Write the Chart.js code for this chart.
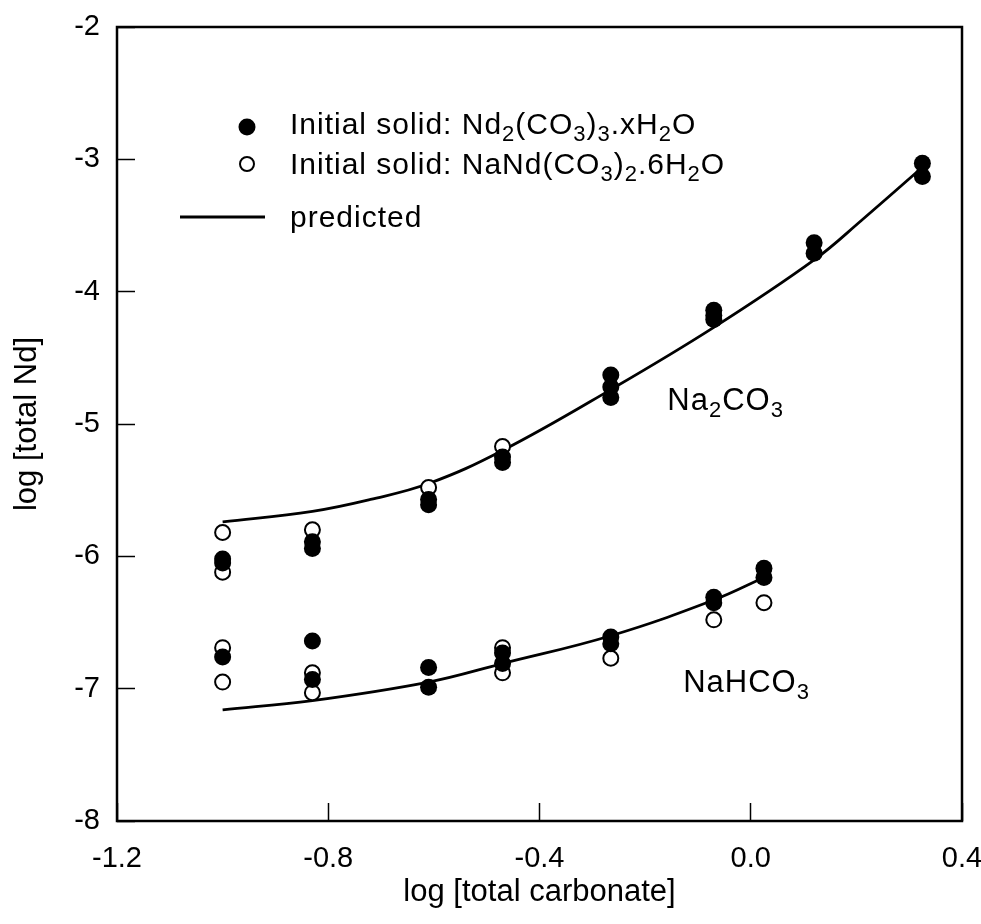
<!DOCTYPE html>
<html>
<head>
<meta charset="utf-8">
<script src="https://cdn.jsdelivr.net/npm/chart.js@4.4.1/dist/chart.umd.min.js"></script>
<style>
  html, body { margin: 0; padding: 0; background: #fff; }
  #wrap { width: 981px; height: 924px; }
</style>
</head>
<body>
<div id="wrap"><canvas id="ndChart" width="981" height="924"></canvas></div>
<script>
// axis ticks
var xTicks = [-1.2, -0.8, -0.4, 0.0, 0.4];
var xTickLabels = ['-1.2', '-0.8', '-0.4', '0.0', '0.4'];
var yTicks = [-2, -3, -4, -5, -6, -7, -8];
var yTickLabels = ['-2', '-3', '-4', '-5', '-6', '-7', '-8'];

// Na2CO3 runs, initial solid Nd2(CO3)3.xH2O (filled)
var na2co3FilledX = [-1.0, -1.0, -0.83, -0.83, -0.61, -0.61, -0.47, -0.47, -0.265, -0.265, -0.265, -0.07, -0.07, -0.07, 0.12, 0.12, 0.325, 0.325];
var na2co3FilledY = [-6.02, -6.05, -5.89, -5.94, -5.57, -5.61, -5.25, -5.29, -4.63, -4.72, -4.80, -4.14, -4.18, -4.21, -3.63, -3.71, -3.03, -3.13];
// Na2CO3 runs, initial solid NaNd(CO3)2.6H2O (open)
var na2co3OpenX = [-1.0, -1.0, -0.83, -0.61, -0.47];
var na2co3OpenY = [-5.82, -6.12, -5.80, -5.48, -5.17];

// NaHCO3 runs
var nahco3FilledX = [-1.0, -0.83, -0.83, -0.61, -0.61, -0.47, -0.47, -0.265, -0.265, -0.07, -0.07, 0.025, 0.025];
var nahco3FilledY = [-6.76, -6.64, -6.93, -6.84, -6.99, -6.73, -6.81, -6.61, -6.66, -6.31, -6.35, -6.09, -6.16];
var nahco3OpenX = [-1.0, -1.0, -0.83, -0.83, -0.47, -0.47, -0.265, -0.07, 0.025];
var nahco3OpenY = [-6.69, -6.95, -6.88, -7.03, -6.69, -6.88, -6.77, -6.48, -6.35];

// predicted curves
var predNa2co3X = [-1.0, -0.83, -0.72, -0.61, -0.47, -0.265, -0.07, 0.12, 0.21, 0.325];
var predNa2co3Y = [-5.74, -5.66, -5.57, -5.45, -5.20, -4.74, -4.27, -3.76, -3.46, -3.06];
var predNahco3X = [-1.0, -0.83, -0.61, -0.47, -0.265, -0.07, 0.025];
var predNahco3Y = [-7.16, -7.09, -6.95, -6.81, -6.60, -6.33, -6.16];

var FONT = "'Liberation Sans', Arial, Helvetica, sans-serif";

function pts(xs, ys) {
  var out = [];
  for (var i = 0; i < xs.length; i++) out.push({x: xs[i], y: ys[i]});
  return out;
}

// text with subscripts: parts are [text, isSub]
function drawRich(ctx, parts, x, y, size) {
  ctx.textBaseline = 'alphabetic';
  ctx.textAlign = 'left';
  ctx.letterSpacing = '1px';
  for (var i = 0; i < parts.length; i++) {
    var sub = parts[i][1];
    ctx.font = (sub ? Math.round(size * 0.72) : size) + 'px ' + FONT;
    ctx.fillText(parts[i][0], x, sub ? y + size * 0.22 : y);
    x += ctx.measureText(parts[i][0]).width;
  }
  ctx.letterSpacing = '0px';
}

var framePlugin = {
  id: 'frame',
  afterDraw: function(chart) {
    var a = chart.chartArea, c = chart.ctx;
    c.save();
    c.strokeStyle = '#000';
    c.lineWidth = 2.5;
    c.strokeRect(a.left, a.top, a.right - a.left, a.bottom - a.top);

    // legend block
    var lx = a.left + 130;
    c.fillStyle = '#000';
    c.beginPath(); c.arc(lx, 127, 8.5, 0, Math.PI * 2); c.fill();
    c.lineWidth = 2;
    c.beginPath(); c.arc(lx, 164, 7, 0, Math.PI * 2); c.stroke();
    c.lineWidth = 3;
    c.beginPath(); c.moveTo(a.left + 63, 217); c.lineTo(a.left + 148, 217); c.stroke();
    drawRich(c, [['Initial solid: Nd', 0], ['2', 1], ['(CO', 0], ['3', 1], [')', 0], ['3', 1], ['.xH', 0], ['2', 1], ['O', 0]], a.left + 173, 134, 30);
    drawRich(c, [['Initial solid: NaNd(CO', 0], ['3', 1], [')', 0], ['2', 1], ['.6H', 0], ['2', 1], ['O', 0]], a.left + 173, 174, 30);
    drawRich(c, [['predicted', 0]], a.left + 173, 227, 30);

    // curve labels
    var xs = chart.scales.x, ys = chart.scales.y;
    drawRich(c, [['Na', 0], ['2', 1], ['CO', 0], ['3', 1]], xs.getPixelForValue(-0.158), ys.getPixelForValue(-4.894), 31);
    drawRich(c, [['NaHCO', 0], ['3', 1]], xs.getPixelForValue(-0.128), ys.getPixelForValue(-7.025), 31);
    c.restore();
  }
};

var ctx = document.getElementById('ndChart').getContext('2d');
var ndChart = new Chart(ctx, {
  type: 'scatter',
  data: {
    datasets: [
      {
        label: 'Initial solid: Nd2(CO3)3.xH2O',
        data: pts(na2co3FilledX, na2co3FilledY).concat(pts(nahco3FilledX, nahco3FilledY)),
        backgroundColor: '#000', borderWidth: 0, pointRadius: 8.5, order: 0
      },
      {
        label: 'Initial solid: NaNd(CO3)2.6H2O',
        data: pts(na2co3OpenX, na2co3OpenY).concat(pts(nahco3OpenX, nahco3OpenY)),
        backgroundColor: '#fff', borderColor: '#000', borderWidth: 2, pointRadius: 7.5, order: 1
      },
      {
        type: 'line', label: 'predicted Na2CO3',
        data: pts(predNa2co3X, predNa2co3Y),
        borderColor: '#000', borderWidth: 2.8, pointRadius: 0, fill: false,
        tension: 0.4, order: 2
      },
      {
        type: 'line', label: 'predicted NaHCO3',
        data: pts(predNahco3X, predNahco3Y),
        borderColor: '#000', borderWidth: 2.8, pointRadius: 0, fill: false,
        tension: 0.4, order: 2
      }
    ]
  },
  options: {
    responsive: false,
    animation: false,
    layout: { padding: { top: 27, right: 19, left: 0, bottom: 0 } },
    plugins: { legend: { display: false }, tooltip: { enabled: false } },
    scales: {
      x: {
        type: 'linear', min: -1.2, max: 0.4,
        afterBuildTicks: function(s) { s.ticks = xTicks.map(function(v) { return {value: v}; }); },
        afterFit: function(s) { s.height = 103; s.paddingLeft = 0; s.paddingRight = 0; },
        ticks: {
          color: '#000', padding: 39, maxRotation: 0, autoSkip: false,
          font: { family: FONT, size: 29 },
          callback: function(v, i) { return xTickLabels[i]; }
        },
        grid: { drawOnChartArea: false, tickLength: -18, tickWidth: 1.5, tickColor: '#000' },
        border: { display: false },
        title: { display: true, text: 'log [total carbonate]', color: '#000', font: { family: FONT, size: 31 }, padding: { top: 0, bottom: 13 } }
      },
      y: {
        type: 'linear', min: -8, max: -2,
        afterBuildTicks: function(s) { s.ticks = yTicks.map(function(v) { return {value: v}; }); },
        afterFit: function(s) { s.width = 117; s.paddingTop = 0; s.paddingBottom = 0; },
        ticks: {
          color: '#000', padding: 35, autoSkip: false,
          font: { family: FONT, size: 29 },
          callback: function(v, i) { return yTickLabels[i]; }
        },
        grid: { drawOnChartArea: false, tickLength: -18, tickWidth: 1.5, tickColor: '#000' },
        border: { display: false },
        title: { display: true, text: 'log [total Nd]', color: '#000', font: { family: FONT, size: 31 }, padding: { top: 9, bottom: 0 } }
      }
    }
  },
  plugins: [framePlugin]
});
</script>
</body>
</html>
